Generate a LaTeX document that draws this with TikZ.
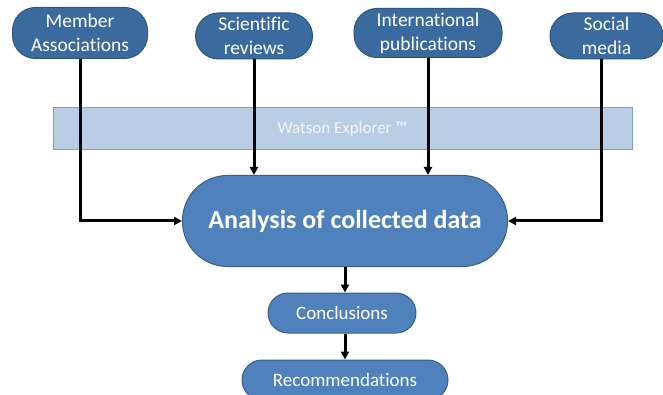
\documentclass[tikz,border=0pt]{standalone}
\usepackage{fontspec}
\setmainfont{Carlito}[Ligatures={NoCommon}]
\usetikzlibrary{arrows.meta,calc}

\definecolor{srcfill}{HTML}{3B6A9E}
\definecolor{srcline}{HTML}{2D5580}
\definecolor{stepfill}{HTML}{4F81BD}
\definecolor{stepline}{HTML}{3A5F8B}
\definecolor{toolfill}{HTML}{B9CDE5}
\definecolor{toolline}{HTML}{7F9DC5}
\definecolor{tooltext}{HTML}{F2F6FB}

\tikzset{
  source/.style={draw=srcline, line width=1pt, fill=srcfill, text=white,
    rounded corners=23pt, align=center, inner sep=0pt,
    font=\fontsize{19.5}{24}\selectfont},
  stadium/.style={draw=stepline, line width=1pt, fill=stepfill, text=white,
    align=center, inner sep=0pt},
  toolbar/.style={draw=toolline, line width=1pt, fill=toolfill, text=tooltext,
    inner sep=0pt, font=\fontsize{17}{20}\selectfont},
  flow/.style={line width=3pt, -{Triangle[length=8pt,width=8pt]}}
}

\begin{document}
\begin{tikzpicture}[x=1pt,y=-1pt]
  \useasboundingbox (0,0) rectangle (663,395);

  % data sources
  \node[source, minimum width=135pt, minimum height=51pt] (mem) at (80,33) {Member\\Associations};
  \node[source, minimum width=117pt, minimum height=46pt] (sci) at (254,36) {Scientific\\reviews};
  \node[source, minimum width=148pt, minimum height=49pt] (int) at (428,33) {International\\publications};
  \node[source, minimum width=113pt, minimum height=46pt] (soc) at (606.5,36) {Social\\media};

  % analysis tool band
  \node[toolbar, minimum width=579pt, minimum height=42pt] (wat) at (342.5,129) {Watson Explorer ™};

  % processing chain
  \node[stadium, rounded corners=45pt, minimum width=325pt, minimum height=91pt,
        font=\fontsize{26}{30}\selectfont\bfseries] (ana) at (345,221) {Analysis of collected data};
  \node[stadium, rounded corners=20pt, minimum width=148pt, minimum height=40pt,
        font=\fontsize{19}{22}\selectfont] (con) at (342,313) {Conclusions};
  \node[stadium, rounded corners=20pt, minimum width=206pt, minimum height=40pt,
        font=\fontsize{19}{22}\selectfont] (rec) at (345,380) {Recommendations};

  % connectors
  \draw[flow] (mem.south) |- (ana.west);
  \draw[flow] (sci.south) -- (sci.south |- ana.north);
  \draw[flow] (int.south) -- (int.south |- ana.north);
  \draw[flow] ([xshift=-5.5pt]soc.south) |- (ana.east);
  \draw[flow] (ana.south) -- (ana.south |- con.north);
  \draw[flow] ([xshift=3pt]con.south) -- ([xshift=3pt]con.south |- rec.north);
\end{tikzpicture}
\end{document}
